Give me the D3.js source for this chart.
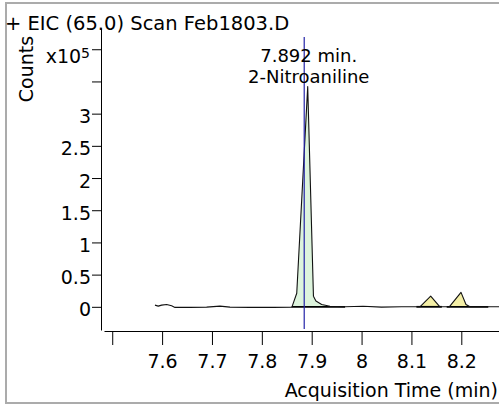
<!DOCTYPE html>
<html>
<head>
<meta charset="utf-8">
<script src="https://cdn.jsdelivr.net/npm/d3@7"></script>
<style>
  html, body { margin: 0; padding: 0; background: #fff; }
  svg { display: block; font-family: "DejaVu Sans", sans-serif; }
</style>
</head>
<body>
<div id="chart"></div>
<script>
// ---- data ----
const titleText = "+ EIC (65.0) Scan Feb1803.D";
const xLabel = "Acquisition Time (min)";
const yLabel = "Counts";
const xTickValues = [7.5, 7.6, 7.7, 7.8, 7.9, 8.0, 8.1, 8.2];
const xTickLabels = ["", "7.6", "7.7", "7.8", "7.9", "8", "8.1", "8.2"];
const yTickValues = [0, 0.5, 1, 1.5, 2, 2.5, 3, 3.5, 4];
const yTickLabels = ["0", "0.5", "1", "1.5", "2", "2.5", "3", "", ""];
const yScaleExponent = "5";
// retention time (min) and counts (x10^5)
const times = [
  7.5857, 7.5923, 7.5991, 7.6091, 7.6191, 7.6258, 7.6558, 7.6893, 7.7160, 7.7361, 7.7762, 7.8229, 7.8598,
  7.8610, 7.8700, 7.8920, 7.9035, 7.9085, 7.9200, 7.9366, 7.9667,
  8.0030, 8.0400, 8.0800, 8.1100,
  8.1170, 8.1386, 8.1571, 8.1610, 8.1707, 8.1759, 8.1994, 8.2094, 8.2174, 8.2541, 8.2756
];
const counts = [
  0.026, 0.011, 0.026, 0.037, 0.016, -0.009, -0.009, -0.005, 0.011, -0.005, -0.009, -0.009, -0.005,
  0.010, 0.210, 3.420, 0.166, 0.090, 0.037, 0.010, 0.000,
  0.010, -0.005, 0.000, 0.000,
  0.000, 0.166, 0.000, 0.000, 0.000, 0.000, 0.224, 0.037, 0.000, 0.000, 0.000
];
// integrated peaks: [start, end]
const peakStarts = [7.8598, 8.1170, 8.1759];
const peakEnds = [7.9667, 8.1571, 8.2174];
const peakFills = ["#ddf4dd", "#f4efa6", "#f4efa6"];
// integration baselines
const baseStarts = [7.860, 8.110, 8.1707];
const baseEnds = [7.967, 8.161, 8.2541];
// annotation
const markerTime = 7.885;
const apexTime = 7.892;
const annotationLines = ["7.892 min.", "2-Nitroaniline"];

// ---- layout ----
const W = 499, H = 407;
const fontSize = 19;
const xRange = [104, 499];
const xDomain = [7.4835, 8.2756];
const yRange = [330, 28];
const yDomain = [-0.36, 4.33];
const xAxisY = 331;
const yAxisX = 101;

const svg = d3.select("#chart").append("svg").attr("width", W).attr("height", H);

// frame
svg.append("rect").attr("x", 6).attr("y", 3).attr("width", 510).attr("height", 400)
  .attr("fill", "none").attr("stroke", "#ababab").attr("stroke-width", 2);

const x = d3.scaleLinear().domain(xDomain).range(xRange);
const y = d3.scaleLinear().domain(yDomain).range(yRange);

const data = times.map((t, i) => ({ t, v: counts[i] }));

// fills
const area = d3.area().x(d => x(d.t)).y0(y(0)).y1(d => y(d.v));
peakStarts.forEach((s, i) => {
  const seg = data.filter(d => d.t >= s - 1e-9 && d.t <= peakEnds[i] + 1e-9);
  svg.append("path").attr("d", area(seg)).attr("fill", peakFills[i]).attr("stroke", "none");
});

// integration baselines
baseStarts.forEach((s, i) => {
  svg.append("line").attr("x1", x(s)).attr("x2", x(baseEnds[i]))
    .attr("y1", y(0)).attr("y2", y(0))
    .attr("stroke", "#000").attr("stroke-width", 1.8);
});

// trace
const line = d3.line().x(d => x(d.t)).y(d => y(d.v));
svg.append("path").attr("d", line(data)).attr("fill", "none")
  .attr("stroke", "#111").attr("stroke-width", 1.1).attr("stroke-linejoin", "round");

// marker line
svg.append("line").attr("x1", x(markerTime)).attr("x2", x(markerTime))
  .attr("y1", 37).attr("y2", 329)
  .attr("stroke", "#2424a8").attr("stroke-width", 1.2);

// x axis
const xAxis = d3.axisBottom(x).tickValues(xTickValues)
  .tickFormat((d, i) => xTickLabels[i]).tickSize(14).tickSizeOuter(0).tickPadding(10);
const gx = svg.append("g").attr("transform", `translate(0,${xAxisY})`).call(xAxis);
gx.selectAll("text").attr("font-size", fontSize).attr("font-family", "DejaVu Sans").attr("fill", "#000");
gx.selectAll("line").attr("stroke", "#000");
gx.select(".domain").attr("stroke", "#000");

// y axis
const yAxis = d3.axisLeft(y).tickValues(yTickValues)
  .tickFormat((d, i) => yTickLabels[i]).tickSize(9).tickSizeOuter(0).tickPadding(1);
const gy = svg.append("g").attr("transform", `translate(${yAxisX},0)`).call(yAxis);
gy.selectAll("text").attr("font-size", fontSize).attr("font-family", "DejaVu Sans")
  .attr("fill", "#000").attr("dy", "0.48em");
gy.selectAll("line").attr("stroke", "#000");
gy.select(".domain").attr("stroke", "#000");

// exponent label
const expT = svg.append("text").attr("x", 90).attr("y", y(4) + 14)
  .attr("text-anchor", "end").attr("font-size", fontSize);
expT.append("tspan").text("x10");
expT.append("tspan").attr("font-size", 14).attr("dy", -5).text(yScaleExponent);

// axis titles
svg.append("text").attr("transform", "translate(33,69) rotate(-90)")
  .attr("text-anchor", "middle").attr("font-size", fontSize).text(yLabel);
svg.append("text").attr("x", 498).attr("y", 396.5).attr("text-anchor", "end")
  .attr("font-size", fontSize).text(xLabel);

// title
svg.append("text").attr("x", 5).attr("y", 30).attr("font-size", 19.5).text(titleText);

// annotation
annotationLines.forEach((s, i) => {
  svg.append("text").attr("x", x(apexTime) + 1).attr("y", 62 + i * 21)
    .attr("text-anchor", "middle").attr("font-size", 18).text(s);
});
</script>
</body>
</html>
